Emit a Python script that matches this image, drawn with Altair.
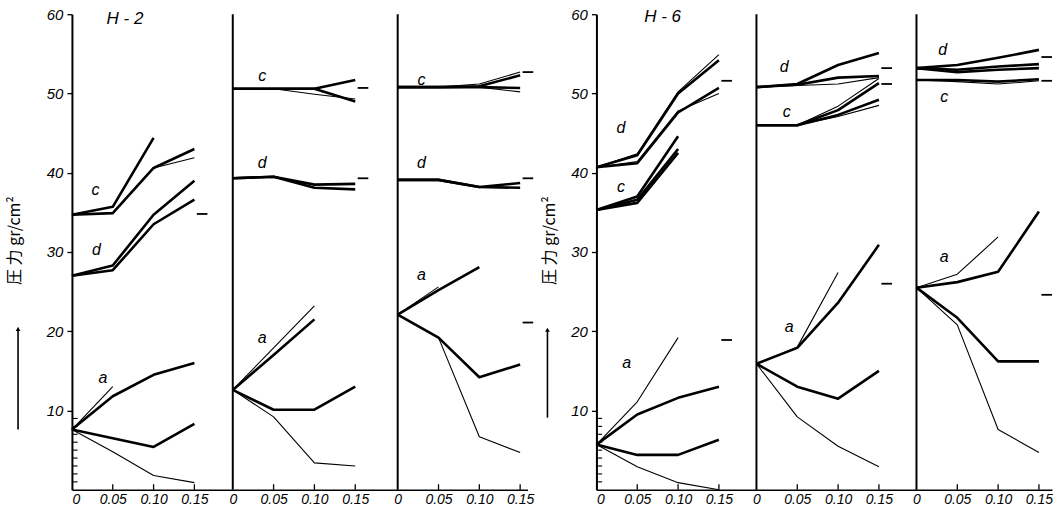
import altair as alt
import pandas as pd

# ---------------- data ----------------
X_TICKS = [0.0, 0.05, 0.10, 0.15]          # crushing-ratio positions of the readings
H2_OFFSETS = [0.0, 0.197, 0.399]            # start of each panel on the shared x axis
H6_OFFSETS = [0.0, 0.196, 0.392]

# (curve id, line weight, pressure values at X_TICKS)
H2_A = [
    ("c1", "thick", [34.7, 35.7, 44.4]),
    ("c2", "thick", [34.7, 34.9, 40.6, 43.0]),
    ("c3", "thin", [34.7, 34.9, 40.6, 41.9]),
    ("d1", "thick", [27.0, 28.3, 34.7, 39.0]),
    ("d2", "thick", [27.0, 27.7, 33.5, 36.6]),
    ("a1", "thin", [7.6, 13.0]),
    ("a2", "thick", [7.6, 11.8, 14.5, 16.0]),
    ("a3", "thick", [7.6, 6.5, 5.4, 8.3]),
    ("a4", "thin", [7.6, 4.8, 1.8, 0.9]),
]
H2_B = [
    ("c1", "thick", [50.6, 50.6, 50.6, 51.7]),
    ("c2", "thick", [50.6, 50.6, 50.6, 49.0]),
    ("c3", "thin", [50.6, 50.6, 49.9, 49.3]),
    ("d1", "thick", [39.3, 39.5, 38.5, 38.6]),
    ("d2", "thick", [39.3, 39.5, 38.1, 37.9]),
    ("a1", "thin", [12.6, 17.9, 23.2]),
    ("a2", "thick", [12.6, 17.0, 21.5]),
    ("a3", "thick", [12.6, 10.1, 10.1, 13.0]),
    ("a4", "thin", [12.6, 9.2, 3.4, 3.0]),
]
H2_C = [
    ("c1", "thin", [50.8, 50.8, 51.2, 52.7]),
    ("c2", "thick", [50.8, 50.8, 50.9, 52.3]),
    ("c3", "thick", [50.8, 50.8, 50.8, 50.7]),
    ("c4", "thin", [50.8, 50.8, 50.8, 50.2]),
    ("d1", "thick", [39.1, 39.1, 38.2, 38.7]),
    ("d2", "thick", [39.1, 39.1, 38.2, 38.1]),
    ("a1", "thin", [22.1, 25.6]),
    ("a2", "thick", [22.1, 25.2, 28.1]),
    ("a3", "thick", [22.1, 19.2, 14.2, 15.8]),
    ("a4", "thin", [22.1, 19.2, 6.7, 4.7]),
]
H6_A = [
    ("d1", "thick", [40.7, 42.2, 50.0, 54.2]),
    ("d1t", "thin", [40.7, 42.4, 50.2, 54.9]),
    ("d2", "thick", [40.7, 41.2, 47.6, 50.7]),
    ("d2t", "thin", [40.7, 41.4, 47.8, 50.0]),
    ("c1", "thick", [35.3, 37.0, 44.6]),
    ("c2", "thick", [35.3, 36.6, 43.0]),
    ("c3", "thick", [35.3, 36.2, 42.5]),
    ("a1", "thin", [5.7, 11.1, 19.2]),
    ("a2", "thick", [5.7, 9.5, 11.6, 13.0]),
    ("a3", "thick", [5.7, 4.4, 4.4, 6.3]),
    ("a4", "thin", [5.7, 2.9, 0.9, 0.0]),
]
H6_B = [
    ("d1", "thick", [50.8, 51.2, 53.6, 55.1]),
    ("d2", "thick", [50.8, 51.1, 52.0, 52.2]),
    ("d3", "thin", [50.8, 51.0, 51.2, 52.0]),
    ("c1", "thin", [46.0, 46.0, 48.4, 51.9]),
    ("c2", "thick", [46.0, 46.0, 47.9, 51.3]),
    ("c3", "thick", [46.0, 46.0, 47.3, 49.2]),
    ("c4", "thin", [46.0, 46.0, 47.1, 48.5]),
    ("a1", "thin", [15.9, 18.0, 27.4]),
    ("a2", "thick", [15.9, 17.9, 23.6, 30.9]),
    ("a3", "thick", [15.9, 13.0, 11.5, 15.0]),
    ("a4", "thin", [15.9, 9.2, 5.5, 2.9]),
]
H6_C = [
    ("d1", "thick", [53.2, 53.6, 54.5, 55.5]),
    ("d2", "thick", [53.2, 53.0, 53.4, 53.7]),
    ("d3", "thick", [53.2, 52.7, 53.0, 53.2]),
    ("c1", "thick", [51.7, 51.7, 51.5, 51.8]),
    ("c2", "thin", [51.7, 51.5, 51.2, 51.6]),
    ("a1", "thin", [25.5, 27.2, 31.9]),
    ("a2", "thick", [25.5, 26.2, 27.5, 35.1]),
    ("a3", "thick", [25.5, 21.7, 16.2, 16.2]),
    ("a4", "thin", [25.5, 20.8, 7.6, 4.7]),
]

# short reference dashes at the right of each panel
H2_REFS = [[34.8], [50.7, 39.3], [52.7, 39.3, 21.1]]
H6_REFS = [[51.6, 18.9], [53.2, 51.2, 26.0], [54.6, 51.6, 24.6]]

# curve letters (text, x within panel, y)
H2_LABELS = [
    [("c", 0.029, 37.8), ("d", 0.030, 30.3), ("a", 0.038, 14.1)],
    [("c", 0.036, 52.2), ("d", 0.036, 41.2), ("a", 0.036, 19.2)],
    [("c", 0.029, 51.7), ("d", 0.029, 41.2), ("a", 0.029, 27.1)],
]
H6_LABELS = [
    [("d", 0.030, 45.6), ("c", 0.030, 38.2), ("a", 0.037, 16.0)],
    [("d", 0.034, 53.3), ("c", 0.037, 47.7), ("a", 0.040, 20.5)],
    [("d", 0.032, 55.5), ("c", 0.034, 49.5), ("a", 0.034, 29.4)],
]
GROUP_NAMES = ["H - 2", "H - 6"]
GROUP_NAME_POS = [(0.065, 59.4), (0.081, 59.6)]
Y_TICKS = [10, 20, 30, 40, 50, 60]
MINOR_Y = [1, 2, 3, 4, 5, 6, 7, 8, 9]
Y_TITLE = "圧 力   gr/cm²"
ARROWS = [(-0.066, 7.6, 20.3), (-0.060, 9.1, 20.2)]
TITLE_X = [-57, -47]

FONT = "Liberation Sans"
XMAX = 0.558
W, H = 456, 476


def group_chart(gi, panels, refs, labels, offsets):
    rows = []
    for p, (series, off) in enumerate(zip(panels, offsets)):
        for sid, w, vals in series:
            for i, v in enumerate(vals):
                rows.append({"sid": f"{p}-{sid}", "w": w, "x": off + X_TICKS[i], "y": v})
    df = pd.DataFrame(rows)

    ref_df = pd.DataFrame([
        {"x": off + 0.153, "x2": off + 0.166, "y": v}
        for off, rr in zip(offsets, refs) for v in rr
    ])
    lab_df = pd.DataFrame([
        {"t": t, "x": off + lx, "y": ly}
        for off, ll in zip(offsets, labels) for (t, lx, ly) in ll
    ])
    sep_df = pd.DataFrame([{"x": off, "y": 0, "y2": 60} for off in offsets[1:]])
    xt_df = pd.DataFrame([{"x": off + t, "y": 0, "y2": 0.7}
                          for off in offsets for t in X_TICKS[1:]])
    my_df = pd.DataFrame([{"x": 0, "x2": 0.007, "y": v} for v in MINOR_Y])
    gx, gy = GROUP_NAME_POS[gi]
    name_df = pd.DataFrame([{"t": GROUP_NAMES[gi], "x": gx, "y": gy}])
    ax, ay1, ay2 = ARROWS[gi]
    arrow_df = pd.DataFrame([{"x": ax, "y": ay1, "y2": ay2}])
    head_df = pd.DataFrame([{"x": ax, "y": ay2}])

    tick_vals = [round(off + t, 4) for off in offsets for t in X_TICKS]
    o1, o2 = offsets[1], offsets[2]
    v = (f"(datum.value < {(o1 - 0.02):.3f} ? datum.value : "
         f"(datum.value < {(o2 - 0.02):.3f} ? datum.value - {o1} : datum.value - {o2}))")
    label_expr = f"({v} < 0.01) ? '0' : format({v}, '.2f')"

    xscale = alt.Scale(domain=[0, XMAX], nice=False, zero=False)
    yscale = alt.Scale(domain=[0, 60], nice=False)
    xenc = alt.X("x:Q", scale=xscale, axis=alt.Axis(
        values=tick_vals, labelExpr=label_expr, ticks=False, grid=False,
        domainColor="black", domainWidth=1.6, labelFont=FONT, labelFontStyle="italic",
        labelFontSize=14, labelPadding=3, labelColor="black", title=None))
    yenc = alt.Y("y:Q", scale=yscale, axis=alt.Axis(
        values=Y_TICKS, grid=False, domainColor="black", domainWidth=2,
        tickColor="black", tickSize=5, tickWidth=1.3, labelFont=FONT,
        labelFontStyle="italic", labelFontSize=15, labelPadding=4, labelColor="black",
        title=Y_TITLE, titleFont="Noto Sans CJK JP", titleFontSize=16,
        titleFontWeight="normal", titleColor="black", titleX=TITLE_X[gi], titleY=226,
        titleAngle=270, titleAlign="center", titleBaseline="middle"))

    lines = alt.Chart(df).mark_line(color="black", strokeJoin="round").encode(
        x=xenc, y=yenc, detail="sid:N",
        strokeWidth=alt.StrokeWidth("w:N", scale=alt.Scale(domain=["thick", "thin"],
                                                            range=[2.6, 1.1]), legend=None))
    ref = alt.Chart(ref_df).mark_rule(color="black", strokeWidth=1.8).encode(
        x="x:Q", x2="x2:Q", y="y:Q")
    sep = alt.Chart(sep_df).mark_rule(color="black", strokeWidth=2).encode(
        x="x:Q", y="y:Q", y2="y2:Q")
    xt = alt.Chart(xt_df).mark_rule(color="black", strokeWidth=1.3).encode(
        x="x:Q", y="y:Q", y2="y2:Q")
    my = alt.Chart(my_df).mark_rule(color="black", strokeWidth=1.1).encode(
        x="x:Q", x2="x2:Q", y="y:Q")
    labs = alt.Chart(lab_df).mark_text(font=FONT, fontStyle="italic", fontSize=16,
                                       color="black").encode(x="x:Q", y="y:Q", text="t:N")
    name = alt.Chart(name_df).mark_text(font=FONT, fontStyle="italic", fontSize=17,
                                        color="black").encode(x="x:Q", y="y:Q", text="t:N")
    arrow = alt.Chart(arrow_df).mark_rule(color="black", strokeWidth=1.6).encode(
        x="x:Q", y="y:Q", y2="y2:Q")
    head = alt.Chart(head_df).mark_point(shape="triangle-up", filled=True, color="black",
                                         size=22, opacity=1).encode(x="x:Q", y="y:Q")
    return alt.layer(lines, ref, sep, xt, my, labs, name, arrow, head).properties(
        width=W, height=H)


g1 = group_chart(0, [H2_A, H2_B, H2_C], H2_REFS, H2_LABELS, H2_OFFSETS)
g2 = group_chart(1, [H6_A, H6_B, H6_C], H6_REFS, H6_LABELS, H6_OFFSETS)

chart = alt.hconcat(g1, g2, spacing=69, bounds="flush").properties(
    padding={"left": 7, "top": 7, "right": 0, "bottom": 0},
    background="white",
).configure_view(strokeWidth=0)

chart.save("out.html", embed_options={"renderer": "svg", "actions": False})
